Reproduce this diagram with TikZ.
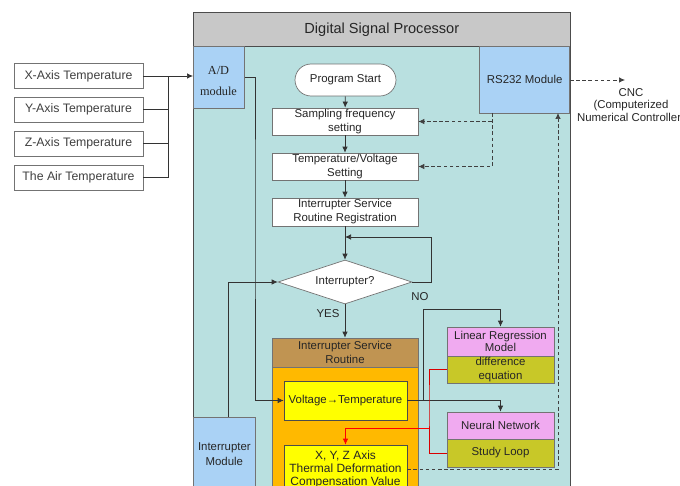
\documentclass[tikz,border=0pt]{standalone}
\usepackage{fontspec}
\setmainfont{Liberation Sans}
\newfontfamily\adfont{Liberation Serif}
\usepackage{tikz}
\usetikzlibrary{arrows.meta,shapes.geometric}
\definecolor{dspbg}{RGB}{185,224,224}
\definecolor{hdrgray}{RGB}{200,200,200}
\definecolor{modblue}{RGB}{170,210,245}
\definecolor{isrbrown}{RGB}{192,148,82}
\definecolor{isrorange}{RGB}{255,185,0}
\definecolor{boxyellow}{RGB}{255,255,0}
\definecolor{lrpink}{RGB}{240,170,240}
\definecolor{olive}{RGB}{200,200,40}

\begin{document}
\begin{tikzpicture}[x=0.02cm, y=-0.02cm,
>={Latex[length=1.2mm,width=1.1mm]},
font=\fontsize{6.5}{8}\selectfont, text=black!85,
sensor/.style={draw=black!55, fill=white, minimum width=2.58cm, minimum height=0.5cm, inner sep=0pt, font=\fontsize{7}{8}\selectfont, text=black!75},
proc/.style={draw=black!55, fill=white, minimum width=2.92cm, minimum height=0.54cm, inner sep=0pt, align=center},
module/.style={draw=black!55, fill=modblue, inner sep=0pt, align=center},
decision/.style={diamond, draw=black!55, fill=white, aspect=3, minimum width=2.68cm, minimum height=0.88cm, inner sep=0pt},
ybox/.style={draw=black!70, fill=boxyellow, minimum width=2.46cm, inner sep=0pt, align=center},
pbox/.style={draw=black!55, fill=lrpink, minimum width=2.14cm, inner sep=0pt, align=center},
obox/.style={draw=black!55, fill=olive, minimum width=2.14cm, inner sep=0pt, align=center},
dline/.style={dashed, dash pattern=on 2pt off 1.5pt, black!75}
]
\useasboundingbox (0,0) rectangle (680,486);
%Nodes
\node[sensor] (sx) at (78.5,76)    {X-Axis Temperature};
\node[sensor] (sy) at (78.5,109.5) {Y-Axis Temperature};
\node[sensor] (sz) at (78.5,143.5) {Z-Axis Temperature};
\node[sensor] (sa) at (78.5,177.5) {The Air Temperature};

\node[draw=black!70, fill=dspbg, minimum width=7.54cm, minimum height=8.9cm, anchor=north west] (dsp) at (193,46) {};
\node[draw=black!70, fill=hdrgray, minimum width=7.54cm, minimum height=0.68cm, anchor=north west, font=\fontsize{8.3}{9}\selectfont] (dsph) at (193,12) {Digital Signal Processor};

\node[module, minimum width=1.02cm, minimum height=1.24cm, anchor=north west] (ad) at (193,46) {};
\node[font=\adfont\fontsize{7}{12.5}\selectfont, align=center] (adtxt) at (218.5,81) {A/D\\module};
\node[module, minimum width=1.8cm, minimum height=1.34cm, anchor=north east] (rs) at (570,46) {RS232 Module};
\node[module, minimum width=1.24cm, minimum height=1.46cm, anchor=north west, font=\fontsize{6.5}{8.5}\selectfont] (im) at (193,417) {Interrupter\\Module};

\node[draw=black!55, fill=white, rounded corners=0.32cm, minimum width=2.02cm, minimum height=0.64cm, inner sep=0pt] (start) at (345.5,80) {Program Start};
\node[proc] (sf) at (345,121.5) {Sampling frequency\\setting};
\node[proc] (tv) at (345,166.5) {Temperature/Voltage\\Setting};
\node[proc, minimum height=0.56cm] (reg) at (345,212) {Interrupter Service\\Routine Registration};
\node[decision] (dia) at (345,282) {Interrupter?};
\node (no)  at (420,297) {NO};
\node (yes) at (328,314) {YES};

\node[draw=black!55, fill=isrorange, minimum width=2.92cm, minimum height=2.46cm, anchor=north] (isrb) at (345,367) {};
\node[proc, fill=isrbrown, minimum height=0.58cm, font=\fontsize{6.5}{7.5}\selectfont] (isrh) at (345,352.5) {Interrupter Service\\Routine};
\node[ybox, minimum height=0.78cm] (vt) at (345.5,400.5) {Voltage→Temperature};
\node[ybox, minimum height=0.96cm, font=\fontsize{6.8}{7.4}\selectfont] (xyz) at (345.5,469) {X, Y, Z Axis\\Thermal Deformation\\Compensation Value};

\node[pbox, minimum height=0.58cm, font=\fontsize{6.5}{7}\selectfont] (lrm) at (500.5,341.5) {Linear Regression\\Model};
\node[obox, minimum height=0.54cm, font=\fontsize{6.5}{7.5}\selectfont] (deq) at (500.5,369.5) {difference\\equation};
\node[pbox, minimum height=0.54cm] (nn) at (500.5,425.5) {Neural Network};
\node[obox, minimum height=0.56cm] (sl) at (500.5,453) {Study Loop};

\node[align=center, font=\fontsize{6.5}{7}\selectfont] (cnc) at (631,106) {CNC\\(Computerized\\Numerical Controller)};

\coordinate (jn)    at (168,76);
\coordinate (adbus) at (255,200);
\coordinate (imbus) at (228,417);
\coordinate (loopc) at (431,237);
\coordinate (vbr)   at (423,400.5);
\coordinate (lrtop) at (423,309);
\coordinate (rsa)   at (492,113);
\coordinate (rsb)   at (558,113);
\coordinate (cncp)  at (625,80);
\coordinate (redx)  at (429,400);
\coordinate (redj)  at (429,428);
%Lines
\draw[black!80] (sy.east) -| (jn);
\draw[black!80] (sz.east) -| (jn);
\draw[black!80] (sa.east) -| (jn);
\draw[->, black!80] (sx.east) -- (ad.west |- sx.east);
\draw[->, black!80] (ad.east) -| (adbus) |- (vt.west);
\draw[->, black!80] (imbus) |- (dia.west);
\draw[->, black!80] (start) -- (sf);
\draw[->, black!80] (sf) -- (tv);
\draw[->, black!80] (tv) -- (reg);
\draw[->, black!80] (reg) -- (dia);
\draw[->, black!80] (dia.east) -| (loopc) -- (dia.north |- loopc);
\draw[->, black!80] (dia.south) -- (isrh.north);
\draw[->, black!80] (vt.east) -| (nn.north);
\draw[->, black!80] (vbr) -- (lrtop) -| (lrm.north);
\draw[red!85!black] (deq.west) -| (redx) |- (sl.west);
\draw[->, red] (redj) -| (xyz.north);
\draw[dline, ->] (rsa) |- (tv.east);
\draw[dline, ->] (rsa |- sf.east) -- (sf.east);
\draw[dline, ->] (rs.east |- cncp) -- (cncp);
\draw[dline, ->] (xyz.east) -| (rsb);
\end{tikzpicture}
\end{document}
